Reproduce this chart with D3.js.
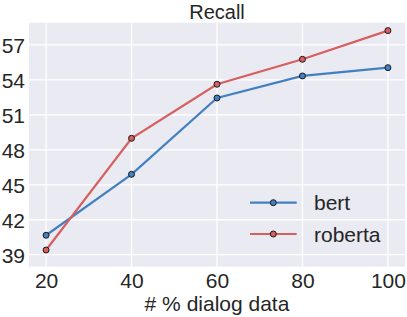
<!DOCTYPE html>
<html>
<head>
<meta charset="utf-8">
<script src="https://cdn.jsdelivr.net/npm/d3@7"></script>
<style>
  body { margin: 0; background: #fff; }
  text { font-family: "Liberation Sans", Arial, sans-serif; fill: #262626; }
</style>
</head>
<body>
<div id="chart-area"></div>
<script>
// data
let xValues = [20, 40, 60, 80, 100];
let bertValues = [40.67, 45.9, 52.45, 54.34, 55.05];
let robertaValues = [39.4, 48.99, 53.63, 55.77, 58.23];
let seriesNames = ["bert", "roberta"];
let xTicks = [20, 40, 60, 80, 100];
let yTicks = [39, 42, 45, 48, 51, 54, 57];

let colors = {bert: "#4280c0", roberta: "#d65f5f"};
let fontSize = 21;

let margin = {top: 22.7, right: 2, left: 29, bottom: 50.3};
let width = 407 - margin.left - margin.right,
    height = 317 - margin.top - margin.bottom;

let svg = d3.select("#chart-area")
    .append("svg")
    .attr("width", 407)
    .attr("height", 317);

let g = svg.append("g")
    .attr("transform", "translate(" + margin.left + "," + margin.top + ")");

let x = d3.scaleLinear()
    .domain([16, 104])
    .range([0, width]);

let y = d3.scaleLinear()
    .domain([37.97, 58.91])
    .range([height, 0]);

// background
g.append("rect")
    .attr("width", width)
    .attr("height", height)
    .attr("fill", "#eaeaf2");

// grid lines
g.selectAll(".xgrid").data(xTicks)
    .enter().append("line")
    .attr("x1", d => x(d)).attr("x2", d => x(d))
    .attr("y1", 0).attr("y2", height)
    .attr("stroke", "#fff").attr("stroke-width", 1.3);

g.selectAll(".ygrid").data(yTicks)
    .enter().append("line")
    .attr("y1", d => y(d)).attr("y2", d => y(d))
    .attr("x1", 0).attr("x2", width)
    .attr("stroke", "#fff").attr("stroke-width", 1.3);

// axes
let xAxis = d3.axisBottom(x).tickValues(xTicks).tickSize(0).tickPadding(6.5);
let yAxis = d3.axisLeft(y).tickValues(yTicks).tickSize(0).tickPadding(4);

g.append("g")
    .attr("transform", "translate(0," + height + ")")
    .call(xAxis)
    .call(a => a.select(".domain").remove())
    .selectAll("text")
    .attr("font-size", fontSize)
    .attr("dy", "0.71em")
    .style("font-family", "Liberation Sans, Arial, sans-serif")
    .attr("fill", "#262626");

g.append("g")
    .call(yAxis)
    .call(a => a.select(".domain").remove())
    .selectAll("text")
    .attr("font-size", fontSize)
    .attr("dy", "0.36em")
    .style("font-family", "Liberation Sans, Arial, sans-serif")
    .attr("fill", "#262626");

// lines
let series = [
    {name: "bert", values: bertValues},
    {name: "roberta", values: robertaValues}
];

let line = d3.line()
    .x((d, i) => x(xValues[i]))
    .y(d => y(d));

series.forEach(function(s) {
    g.append("path")
        .datum(s.values)
        .attr("fill", "none")
        .attr("stroke", colors[s.name])
        .attr("stroke-width", 2.2)
        .attr("d", line);

    g.selectAll(".pt-" + s.name).data(s.values)
        .enter().append("circle")
        .attr("cx", (d, i) => x(xValues[i]))
        .attr("cy", d => y(d))
        .attr("r", 3)
        .attr("fill", colors[s.name])
        .attr("stroke", "#1a1a1a")
        .attr("stroke-width", 1);
});

// title and x label
svg.append("text")
    .attr("x", margin.left + width / 2)
    .attr("y", 18.5)
    .attr("text-anchor", "middle")
    .attr("font-size", 20)
    .text("Recall");

svg.append("text")
    .attr("x", margin.left + width / 2)
    .attr("y", 311)
    .attr("text-anchor", "middle")
    .attr("font-size", fontSize)
    .text("# % dialog data");

// legend
let legend = svg.append("g");
seriesNames.forEach(function(name, i) {
    let ly = 202.7 + i * 31.3;
    legend.append("line")
        .attr("x1", 250).attr("x2", 296.7)
        .attr("y1", ly).attr("y2", ly)
        .attr("stroke", colors[name])
        .attr("stroke-width", 2.2);
    legend.append("circle")
        .attr("cx", 273.3).attr("cy", ly)
        .attr("r", 3)
        .attr("fill", colors[name])
        .attr("stroke", "#1a1a1a")
        .attr("stroke-width", 1);
    legend.append("text")
        .attr("x", 314)
        .attr("y", ly)
        .attr("dy", "0.36em")
        .attr("font-size", fontSize)
        .text(name);
});
</script>
</body>
</html>
